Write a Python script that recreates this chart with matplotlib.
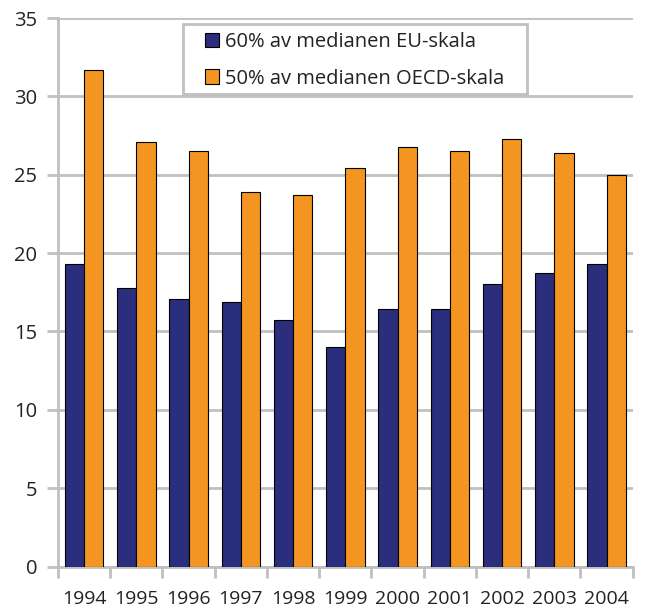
import numpy as np
import matplotlib
matplotlib.use('Agg')
import matplotlib.pyplot as plt
from matplotlib.patches import Rectangle

plt.rcParams['font.family'] = ['Open Sans', 'DejaVu Sans']

# Data.
years = ['1994', '1995', '1996', '1997', '1998', '1999',
         '2000', '2001', '2002', '2003', '2004']
eu_60 = [19.3, 17.8, 17.1, 16.9, 15.7, 14.0, 16.4, 16.4, 18.0, 18.7, 19.3]
oecd_50 = [31.7, 27.1, 26.5, 23.9, 23.7, 25.4, 26.8, 26.5, 27.3, 26.4, 25.0]
series_labels = ['60% av medianen EU-skala', '50% av medianen OECD-skala']
y_ticks = [0, 5, 10, 15, 20, 25, 30, 35]

grid_gray = '#c0c0c0'
blue = '#2b2d7d'
orange = '#f39520'
text_col = '#222222'

W, H = 646, 612
fig = plt.figure(figsize=(W / 100, H / 100), dpi=100)
ax = fig.add_axes([58 / W, 1 - 566.5 / H, 574.7 / W, 548.5 / H])

x = np.arange(len(years))
w = 0.37
ax.bar(x - w / 2, eu_60, w, color=blue, edgecolor='black', linewidth=0.8,
       label=series_labels[0], zorder=3)
ax.bar(x + w / 2, oecd_50, w, color=orange, edgecolor='black', linewidth=0.8,
       label=series_labels[1], zorder=3)

ax.set_xlim(-0.5, len(years) - 0.5)
ax.set_ylim(0, 35)
ax.set_yticks(y_ticks)
ax.yaxis.grid(True, color=grid_gray, linewidth=2, zorder=0)

# Category boundary ticks, labels centred on categories.
ax.set_xticks(np.arange(len(years) + 1) - 0.5)
ax.set_xticklabels([])
ax.set_xticks(x, minor=True)
ax.set_xticklabels(years, minor=True)
ax.tick_params(axis='x', which='major', length=8, width=2, color=grid_gray)
ax.tick_params(axis='x', which='minor', length=0, pad=17, labelsize=14,
               labelcolor=text_col)
ax.tick_params(axis='y', length=8, width=2, color=grid_gray, pad=7,
               labelsize=14.5, labelcolor=text_col)

for side in ['top', 'right']:
    ax.spines[side].set_visible(False)
for side in ['left', 'bottom']:
    ax.spines[side].set_color(grid_gray)
    ax.spines[side].set_linewidth(2)

# Legend frame drawn separately so the padding can match.
ax.add_patch(Rectangle((183 / W, 1 - 93.7 / H), (527 - 183) / W,
                       (93.7 - 24.3) / H, transform=fig.transFigure,
                       facecolor='white', edgecolor=grid_gray,
                       linewidth=2, zorder=5, clip_on=False))
leg = ax.legend(loc='upper left', bbox_to_anchor=(205 / W, 1 - 32 / H),
                bbox_transform=fig.transFigure, fontsize=14.5, frameon=False,
                handlelength=0.7, handleheight=0.7, handletextpad=0.3,
                borderpad=0, labelspacing=0.82, borderaxespad=0,
                labelcolor=text_col)
leg.set_zorder(6)

plt.savefig('out.png', dpi=100)
